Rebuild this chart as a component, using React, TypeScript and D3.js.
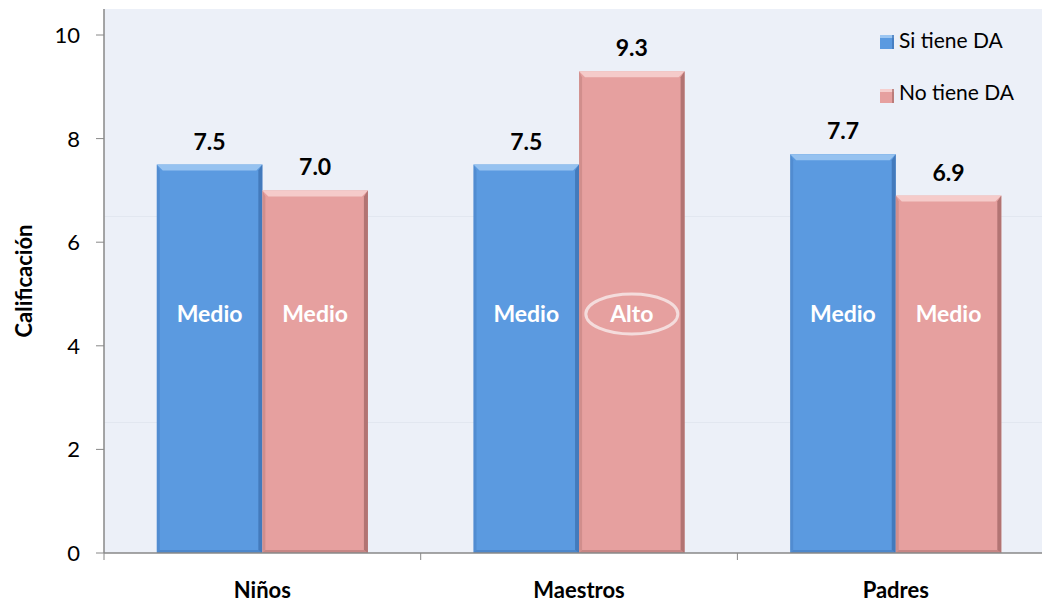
import React from "react";
import * as d3 from "d3";

const categories = ["Niños", "Maestros", "Padres"];
const seriesNames = ["Si tiene DA", "No tiene DA"];
const siTiene = [7.5, 7.5, 7.7];
const noTiene = [7.0, 9.3, 6.9];
const siLevels = ["Medio", "Medio", "Medio"];
const noLevels = ["Medio", "Alto", "Medio"];
const yTicks = [0, 2, 4, 6, 8, 10];

const W = 1042;
const H = 605;
const FONT = "Lato, 'Open Sans', sans-serif";
const COLORS = ["#5B9AE0", "#E6A09F"];
const LIGHT = ["#9CC6F2", "#F6CFCE"];
const DARK = ["#3F74B5", "#A86C6B"];

export default function App() {
  const left = 104;
  const top = 9;
  const bottom = 553;
  const y = d3.scaleLinear().domain([0, 10]).range([bottom, 35]);
  const x0 = d3.scaleBand<string>().domain(categories).range([left, left + 3 * 316.7]).paddingInner(0).paddingOuter(0);
  const x1 = d3.scaleBand<string>().domain(seriesNames).range([0, x0.bandwidth()]).paddingInner(0).paddingOuter(0.5);

  const series = [
    { name: seriesNames[0], values: siTiene, levels: siLevels },
    { name: seriesNames[1], values: noTiene, levels: noLevels },
  ];

  const bw = x1.bandwidth();
  const bev = 6;

  return (
    <svg width={W} height={H} style={{ position: "absolute", left: 0, top: 0, display: "block" }}>
      <rect x={0} y={0} width={W} height={H} fill="#ffffff" />
      <rect x={left} y={top} width={W - left} height={bottom - top} fill="#ECF0F8" />
      <line x1={left} x2={W} y1={216.5} y2={216.5} stroke="#E2E7F0" strokeWidth={1} />
      <line x1={left} x2={W} y1={422.5} y2={422.5} stroke="#E2E7F0" strokeWidth={1} />

      {categories.map((c, ci) =>
        series.map((s, si) => {
          const bx = (x0(c) as number) + (x1(s.name) as number);
          const by = y(s.values[ci]);
          const h = bottom - by;
          return (
            <g key={c + s.name}>
              <rect x={bx} y={by} width={bw} height={h} fill={COLORS[si]} />
              {/* bevel: top highlight */}
              <polygon
                points={`${bx},${by} ${bx + bw},${by} ${bx + bw - bev},${by + bev} ${bx + bev},${by + bev}`}
                fill={LIGHT[si]}
                opacity={0.9}
              />
              {/* bevel: right shade */}
              <polygon
                points={`${bx + bw},${by} ${bx + bw},${bottom} ${bx + bw - 4},${bottom - 3} ${bx + bw - 4},${by + bev}`}
                fill={DARK[si]}
                opacity={0.85}
              />
              {/* bevel: left shade */}
              <polygon
                points={`${bx},${by} ${bx + 3},${by + bev} ${bx + 3},${bottom - 3} ${bx},${bottom}`}
                fill={DARK[si]}
                opacity={0.35}
              />
              {/* bevel: bottom shade */}
              <polygon
                points={`${bx},${bottom} ${bx + bw},${bottom} ${bx + bw - 4},${bottom - 3} ${bx + 3},${bottom - 3}`}
                fill={DARK[si]}
                opacity={0.5}
              />
              <text
                x={bx + bw / 2}
                y={by - 15}
                textAnchor="middle"
                fontFamily={FONT}
                fontWeight="bold"
                fontSize={23}
                fill="#000"
              >
                {s.values[ci].toFixed(1)}
              </text>
              <text
                x={bx + bw / 2}
                y={322}
                textAnchor="middle"
                fontFamily={FONT}
                fontWeight="bold"
                fontSize={23}
                fill="#ffffff"
              >
                {s.levels[ci]}
              </text>
              {s.levels[ci] === "Alto" && (
                <ellipse
                  cx={bx + bw / 2}
                  cy={314}
                  rx={46}
                  ry={20}
                  fill="none"
                  stroke="#F4DCDC"
                  strokeWidth={3}
                />
              )}
            </g>
          );
        })
      )}

      {/* y axis */}
      <line x1={left} x2={left} y1={top} y2={bottom} stroke="#888" strokeWidth={1.5} />
      {yTicks.map((t) => (
        <g key={t}>
          <line x1={96} x2={left} y1={y(t)} y2={y(t)} stroke="#888" strokeWidth={1} />
          <text x={80} y={y(t) + 8} textAnchor="end" fontFamily={FONT} fontSize={22} fill="#000">
            {t}
          </text>
        </g>
      ))}

      {/* x axis */}
      <line x1={left} x2={W} y1={bottom} y2={bottom} stroke="#888" strokeWidth={1.5} />
      {categories.map((c) => (
        <line
          key={"t" + c}
          x1={x0(c) as number}
          x2={x0(c) as number}
          y1={bottom}
          y2={bottom + 7}
          stroke="#888"
          strokeWidth={1}
        />
      ))}
      {categories.map((c) => (
        <text
          key={"l" + c}
          x={(x0(c) as number) + x0.bandwidth() / 2}
          y={598}
          textAnchor="middle"
          fontFamily={FONT}
          fontWeight="bold"
          fontSize={22}
          fill="#000"
        >
          {c}
        </text>
      ))}

      <text
        transform={`translate(32,281) rotate(-90)`}
        textAnchor="middle"
        fontFamily={FONT}
        fontWeight="bold"
        fontSize={22}
        fill="#000"
      >
        Calificación
      </text>

      {/* legend */}
      {seriesNames.map((n, i) => {
        const base = 48 + i * 52;
        const sy = base - 13 + i * 2;
        return (
          <g key={n}>
            <rect x={880} y={sy} width={14} height={14} fill={COLORS[i]} />
            <rect x={880} y={sy} width={14} height={3} fill={LIGHT[i]} />
            <rect x={892} y={sy} width={2} height={14} fill={DARK[i]} opacity={0.7} />
            <text x={899} y={base} fontFamily={FONT} fontSize={21} fill="#000">
              {n}
            </text>
          </g>
        );
      })}
    </svg>
  );
}
